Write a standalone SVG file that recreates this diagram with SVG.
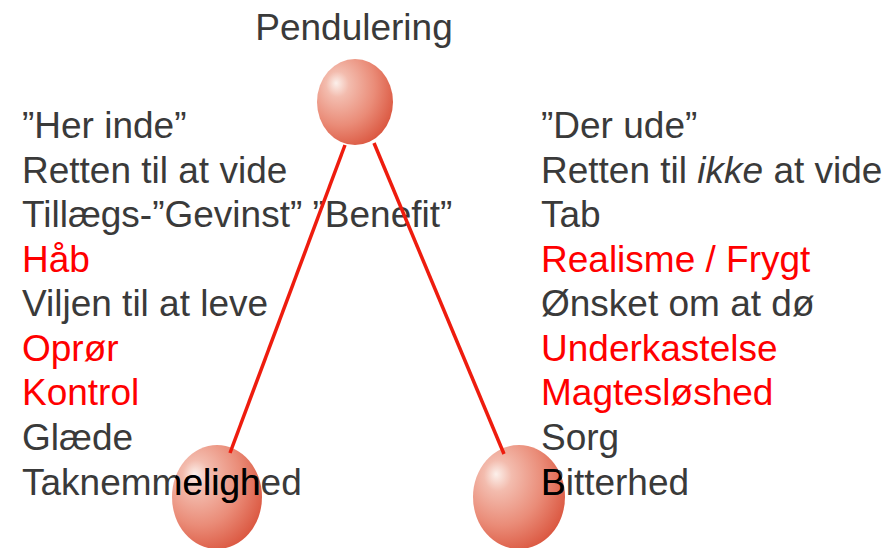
<svg xmlns="http://www.w3.org/2000/svg" width="892" height="548" viewBox="0 0 892 548">
<defs>
<radialGradient id="ball" cx="0.35" cy="0.35" r="0.75" fx="0.25" fy="0.28">
<stop offset="0" stop-color="#fcf0eb"/>
<stop offset="0.2" stop-color="#f3bcae"/>
<stop offset="0.6" stop-color="#ea8c78"/>
<stop offset="1" stop-color="#d9513a"/>
</radialGradient>
<clipPath id="balls">
<ellipse cx="217" cy="497" rx="45" ry="52"/>
<ellipse cx="519" cy="497" rx="46" ry="52"/>
</clipPath>
</defs>
<style>
text{font-family:"Liberation Sans",Arial,sans-serif;font-size:37px;fill:#3a3a3a}
.r{fill:#ff0000}
.k{fill:#000}
.ln{stroke:#ee1c0e;stroke-width:3.5;fill:none}
</style>
<rect width="892" height="548" fill="#fff"/>
<g id="ball-top"><ellipse cx="355" cy="102" rx="38" ry="43" fill="url(#ball)"/></g>
<g id="ball-left"><ellipse cx="217" cy="497" rx="45" ry="52" fill="url(#ball)"/></g>
<g id="ball-right"><ellipse cx="519" cy="497" rx="46" ry="52" fill="url(#ball)"/></g>
<g id="title"><text x="354" y="40" text-anchor="middle" font-size="37.5">Pendulering</text></g>
<g id="left-list">
<text x="22" y="138">”Her inde”</text>
<text x="22" y="183">Retten til at vide</text>
<text x="22" y="227">Tillægs-”Gevinst” ”Benefit”</text>
<text x="22" y="272" class="r">Håb</text>
<text x="22" y="316">Viljen til at leve</text>
<text x="22" y="361" class="r">Oprør</text>
<text x="22" y="405" class="r">Kontrol</text>
<text x="22" y="450">Glæde</text>
<text x="22" y="495">Taknemmelighed</text>
</g>
<g id="right-list">
<text x="541" y="138">”Der ude”</text>
<text x="541" y="183">Retten til <tspan font-style="italic">ikke</tspan> at vide</text>
<text x="541" y="227">Tab</text>
<text x="541" y="272" class="r">Realisme / Frygt</text>
<text x="541" y="316">Ønsket om at dø</text>
<text x="541" y="361" class="r">Underkastelse</text>
<text x="541" y="405" class="r">Magtesløshed</text>
<text x="541" y="450">Sorg</text>
<text x="541" y="495">Bitterhed</text>
</g>
<g id="overlap-text" clip-path="url(#balls)">
<text x="22" y="495" class="k">Taknemmelighed</text>
<text x="541" y="495" class="k">Bitterhed</text>
</g>
<g id="connectors">
<line class="ln" x1="345" y1="145" x2="230" y2="453"/>
<line class="ln" x1="374" y1="143" x2="504" y2="454"/>
</g>
</svg>
